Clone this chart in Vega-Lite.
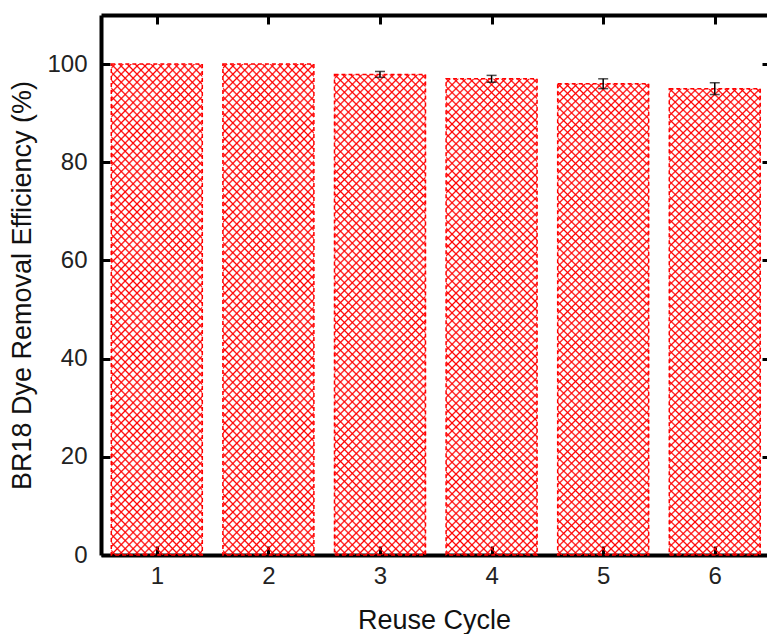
{
  "$schema": "https://vega.github.io/schema/vega-lite/v6.json",
  "width": 666,
  "height": 540,
  "autosize": {"type": "none"},
  "padding": {"left": 101, "top": 15, "right": 0, "bottom": 79},
  "background": "white",
  "config": {"view": {"stroke": null}, "font": "Liberation Sans"},
  "data": {
    "values": [
      {"cycle": 1, "eff": 100, "lo": 100, "hi": 100, "err": 0},
      {"cycle": 2, "eff": 100, "lo": 100, "hi": 100, "err": 0},
      {"cycle": 3, "eff": 97.9, "lo": 97.3, "hi": 98.5, "err": 0.6},
      {"cycle": 4, "eff": 97.0, "lo": 96.3, "hi": 97.7, "err": 0.7},
      {"cycle": 5, "eff": 96.0, "lo": 95.0, "hi": 97.0, "err": 1.0},
      {"cycle": 6, "eff": 95.0, "lo": 93.8, "hi": 96.2, "err": 1.2}
    ]
  },
  "resolve": {"axis": {"x": "independent", "y": "independent"}},
  "layer": [
    {
      "mark": {"type": "bar", "size": 91, "strokeWidth": 0,
        "fill": {"gradient": "linear", "x1": 0, "y1": 0, "x2": 0.2183, "y2": 1.148, "stops": [
{"offset":0.0039,"color":"#f000"},{"offset":0.0069,"color":"#f00"},{"offset":0.0099,"color":"#f000"},
{"offset":0.0178,"color":"#f000"},{"offset":0.0208,"color":"#f00"},{"offset":0.0238,"color":"#f000"},
{"offset":0.0317,"color":"#f000"},{"offset":0.0347,"color":"#f00"},{"offset":0.0377,"color":"#f000"},
{"offset":0.0456,"color":"#f000"},{"offset":0.0486,"color":"#f00"},{"offset":0.0516,"color":"#f000"},
{"offset":0.0595,"color":"#f000"},{"offset":0.0625,"color":"#f00"},{"offset":0.0655,"color":"#f000"},
{"offset":0.0734,"color":"#f000"},{"offset":0.0764,"color":"#f00"},{"offset":0.0794,"color":"#f000"},
{"offset":0.0873,"color":"#f000"},{"offset":0.0903,"color":"#f00"},{"offset":0.0933,"color":"#f000"},
{"offset":0.1012,"color":"#f000"},{"offset":0.1042,"color":"#f00"},{"offset":0.1072,"color":"#f000"},
{"offset":0.1151,"color":"#f000"},{"offset":0.1181,"color":"#f00"},{"offset":0.1211,"color":"#f000"},
{"offset":0.1289,"color":"#f000"},{"offset":0.1319,"color":"#f00"},{"offset":0.1349,"color":"#f000"},
{"offset":0.1428,"color":"#f000"},{"offset":0.1458,"color":"#f00"},{"offset":0.1488,"color":"#f000"},
{"offset":0.1567,"color":"#f000"},{"offset":0.1597,"color":"#f00"},{"offset":0.1627,"color":"#f000"},
{"offset":0.1706,"color":"#f000"},{"offset":0.1736,"color":"#f00"},{"offset":0.1766,"color":"#f000"},
{"offset":0.1845,"color":"#f000"},{"offset":0.1875,"color":"#f00"},{"offset":0.1905,"color":"#f000"},
{"offset":0.1984,"color":"#f000"},{"offset":0.2014,"color":"#f00"},{"offset":0.2044,"color":"#f000"},
{"offset":0.2123,"color":"#f000"},{"offset":0.2153,"color":"#f00"},{"offset":0.2183,"color":"#f000"},
{"offset":0.2262,"color":"#f000"},{"offset":0.2292,"color":"#f00"},{"offset":0.2322,"color":"#f000"},
{"offset":0.2401,"color":"#f000"},{"offset":0.2431,"color":"#f00"},{"offset":0.2461,"color":"#f000"},
{"offset":0.2539,"color":"#f000"},{"offset":0.2569,"color":"#f00"},{"offset":0.2599,"color":"#f000"},
{"offset":0.2678,"color":"#f000"},{"offset":0.2708,"color":"#f00"},{"offset":0.2738,"color":"#f000"},
{"offset":0.2817,"color":"#f000"},{"offset":0.2847,"color":"#f00"},{"offset":0.2877,"color":"#f000"},
{"offset":0.2956,"color":"#f000"},{"offset":0.2986,"color":"#f00"},{"offset":0.3016,"color":"#f000"},
{"offset":0.3095,"color":"#f000"},{"offset":0.3125,"color":"#f00"},{"offset":0.3155,"color":"#f000"},
{"offset":0.3234,"color":"#f000"},{"offset":0.3264,"color":"#f00"},{"offset":0.3294,"color":"#f000"},
{"offset":0.3373,"color":"#f000"},{"offset":0.3403,"color":"#f00"},{"offset":0.3433,"color":"#f000"},
{"offset":0.3512,"color":"#f000"},{"offset":0.3542,"color":"#f00"},{"offset":0.3572,"color":"#f000"},
{"offset":0.3651,"color":"#f000"},{"offset":0.3681,"color":"#f00"},{"offset":0.3711,"color":"#f000"},
{"offset":0.3789,"color":"#f000"},{"offset":0.3819,"color":"#f00"},{"offset":0.3849,"color":"#f000"},
{"offset":0.3928,"color":"#f000"},{"offset":0.3958,"color":"#f00"},{"offset":0.3988,"color":"#f000"},
{"offset":0.4067,"color":"#f000"},{"offset":0.4097,"color":"#f00"},{"offset":0.4127,"color":"#f000"},
{"offset":0.4206,"color":"#f000"},{"offset":0.4236,"color":"#f00"},{"offset":0.4266,"color":"#f000"},
{"offset":0.4345,"color":"#f000"},{"offset":0.4375,"color":"#f00"},{"offset":0.4405,"color":"#f000"},
{"offset":0.4484,"color":"#f000"},{"offset":0.4514,"color":"#f00"},{"offset":0.4544,"color":"#f000"},
{"offset":0.4623,"color":"#f000"},{"offset":0.4653,"color":"#f00"},{"offset":0.4683,"color":"#f000"},
{"offset":0.4762,"color":"#f000"},{"offset":0.4792,"color":"#f00"},{"offset":0.4822,"color":"#f000"},
{"offset":0.4901,"color":"#f000"},{"offset":0.4931,"color":"#f00"},{"offset":0.4961,"color":"#f000"},
{"offset":0.5039,"color":"#f000"},{"offset":0.5069,"color":"#f00"},{"offset":0.5099,"color":"#f000"},
{"offset":0.5178,"color":"#f000"},{"offset":0.5208,"color":"#f00"},{"offset":0.5238,"color":"#f000"},
{"offset":0.5317,"color":"#f000"},{"offset":0.5347,"color":"#f00"},{"offset":0.5377,"color":"#f000"},
{"offset":0.5456,"color":"#f000"},{"offset":0.5486,"color":"#f00"},{"offset":0.5516,"color":"#f000"},
{"offset":0.5595,"color":"#f000"},{"offset":0.5625,"color":"#f00"},{"offset":0.5655,"color":"#f000"},
{"offset":0.5734,"color":"#f000"},{"offset":0.5764,"color":"#f00"},{"offset":0.5794,"color":"#f000"},
{"offset":0.5873,"color":"#f000"},{"offset":0.5903,"color":"#f00"},{"offset":0.5933,"color":"#f000"},
{"offset":0.6012,"color":"#f000"},{"offset":0.6042,"color":"#f00"},{"offset":0.6072,"color":"#f000"},
{"offset":0.6151,"color":"#f000"},{"offset":0.6181,"color":"#f00"},{"offset":0.6211,"color":"#f000"},
{"offset":0.6289,"color":"#f000"},{"offset":0.6319,"color":"#f00"},{"offset":0.6349,"color":"#f000"},
{"offset":0.6428,"color":"#f000"},{"offset":0.6458,"color":"#f00"},{"offset":0.6488,"color":"#f000"},
{"offset":0.6567,"color":"#f000"},{"offset":0.6597,"color":"#f00"},{"offset":0.6627,"color":"#f000"},
{"offset":0.6706,"color":"#f000"},{"offset":0.6736,"color":"#f00"},{"offset":0.6766,"color":"#f000"},
{"offset":0.6845,"color":"#f000"},{"offset":0.6875,"color":"#f00"},{"offset":0.6905,"color":"#f000"},
{"offset":0.6984,"color":"#f000"},{"offset":0.7014,"color":"#f00"},{"offset":0.7044,"color":"#f000"},
{"offset":0.7123,"color":"#f000"},{"offset":0.7153,"color":"#f00"},{"offset":0.7183,"color":"#f000"},
{"offset":0.7262,"color":"#f000"},{"offset":0.7292,"color":"#f00"},{"offset":0.7322,"color":"#f000"},
{"offset":0.7401,"color":"#f000"},{"offset":0.7431,"color":"#f00"},{"offset":0.7461,"color":"#f000"},
{"offset":0.7539,"color":"#f000"},{"offset":0.7569,"color":"#f00"},{"offset":0.7599,"color":"#f000"},
{"offset":0.7678,"color":"#f000"},{"offset":0.7708,"color":"#f00"},{"offset":0.7738,"color":"#f000"},
{"offset":0.7817,"color":"#f000"},{"offset":0.7847,"color":"#f00"},{"offset":0.7877,"color":"#f000"},
{"offset":0.7956,"color":"#f000"},{"offset":0.7986,"color":"#f00"},{"offset":0.8016,"color":"#f000"},
{"offset":0.8095,"color":"#f000"},{"offset":0.8125,"color":"#f00"},{"offset":0.8155,"color":"#f000"},
{"offset":0.8234,"color":"#f000"},{"offset":0.8264,"color":"#f00"},{"offset":0.8294,"color":"#f000"},
{"offset":0.8373,"color":"#f000"},{"offset":0.8403,"color":"#f00"},{"offset":0.8433,"color":"#f000"},
{"offset":0.8512,"color":"#f000"},{"offset":0.8542,"color":"#f00"},{"offset":0.8572,"color":"#f000"},
{"offset":0.8651,"color":"#f000"},{"offset":0.8681,"color":"#f00"},{"offset":0.8711,"color":"#f000"},
{"offset":0.8789,"color":"#f000"},{"offset":0.8819,"color":"#f00"},{"offset":0.8849,"color":"#f000"},
{"offset":0.8928,"color":"#f000"},{"offset":0.8958,"color":"#f00"},{"offset":0.8988,"color":"#f000"},
{"offset":0.9067,"color":"#f000"},{"offset":0.9097,"color":"#f00"},{"offset":0.9127,"color":"#f000"},
{"offset":0.9206,"color":"#f000"},{"offset":0.9236,"color":"#f00"},{"offset":0.9266,"color":"#f000"},
{"offset":0.9345,"color":"#f000"},{"offset":0.9375,"color":"#f00"},{"offset":0.9405,"color":"#f000"},
{"offset":0.9484,"color":"#f000"},{"offset":0.9514,"color":"#f00"},{"offset":0.9544,"color":"#f000"},
{"offset":0.9623,"color":"#f000"},{"offset":0.9653,"color":"#f00"},{"offset":0.9683,"color":"#f000"},
{"offset":0.9762,"color":"#f000"},{"offset":0.9792,"color":"#f00"},{"offset":0.9822,"color":"#f000"},
{"offset":0.9901,"color":"#f000"},{"offset":0.9931,"color":"#f00"},{"offset":0.9961,"color":"#f000"}
        ]}},
      "encoding": {
        "x": {
          "field": "cycle", "type": "quantitative",
          "scale": {"domain": [0.5, 6.468], "nice": false, "zero": false, "padding": 0},
          "axis": {
            "orient": "bottom", "values": [1, 2, 3, 4, 5, 6], "grid": false,
            "domainColor": "black", "domainWidth": 4,
            "tickColor": "black", "tickWidth": 3, "tickSize": -9,
            "labelFontSize": 24, "labelColor": "#222", "labelPadding": 18,
            "title": "Reuse Cycle", "titleFontSize": 27, "titleFontWeight": "normal", "titleColor": "#111", "titlePadding": 19
          }
        },
        "y": {
          "field": "eff", "type": "quantitative",
          "scale": {"domain": [0, 110], "nice": false},
          "axis": {
            "orient": "left", "values": [0, 20, 40, 60, 80, 100], "grid": false,
            "domainColor": "black", "domainWidth": 4,
            "tickColor": "black", "tickWidth": 3, "tickSize": -9,
            "labelFontSize": 24, "labelColor": "#222", "labelPadding": 23,
            "title": "BR18 Dye Removal Efficiency (%)", "titleFontSize": 27, "titleFontWeight": "normal", "titleColor": "#111", "titlePadding": 10
          }
        }
      }
    },
    {
      "mark": {"type": "bar", "size": 91, "stroke": "#ff0000", "strokeWidth": 1.5, "strokeDash": [4, 3],
        "fill": {"gradient": "linear", "x1": 1, "y1": 0, "x2": 0.7817, "y2": 1.148, "stops": [
{"offset":0.0039,"color":"#f000"},{"offset":0.0069,"color":"#f00"},{"offset":0.0099,"color":"#f000"},
{"offset":0.0178,"color":"#f000"},{"offset":0.0208,"color":"#f00"},{"offset":0.0238,"color":"#f000"},
{"offset":0.0317,"color":"#f000"},{"offset":0.0347,"color":"#f00"},{"offset":0.0377,"color":"#f000"},
{"offset":0.0456,"color":"#f000"},{"offset":0.0486,"color":"#f00"},{"offset":0.0516,"color":"#f000"},
{"offset":0.0595,"color":"#f000"},{"offset":0.0625,"color":"#f00"},{"offset":0.0655,"color":"#f000"},
{"offset":0.0734,"color":"#f000"},{"offset":0.0764,"color":"#f00"},{"offset":0.0794,"color":"#f000"},
{"offset":0.0873,"color":"#f000"},{"offset":0.0903,"color":"#f00"},{"offset":0.0933,"color":"#f000"},
{"offset":0.1012,"color":"#f000"},{"offset":0.1042,"color":"#f00"},{"offset":0.1072,"color":"#f000"},
{"offset":0.1151,"color":"#f000"},{"offset":0.1181,"color":"#f00"},{"offset":0.1211,"color":"#f000"},
{"offset":0.1289,"color":"#f000"},{"offset":0.1319,"color":"#f00"},{"offset":0.1349,"color":"#f000"},
{"offset":0.1428,"color":"#f000"},{"offset":0.1458,"color":"#f00"},{"offset":0.1488,"color":"#f000"},
{"offset":0.1567,"color":"#f000"},{"offset":0.1597,"color":"#f00"},{"offset":0.1627,"color":"#f000"},
{"offset":0.1706,"color":"#f000"},{"offset":0.1736,"color":"#f00"},{"offset":0.1766,"color":"#f000"},
{"offset":0.1845,"color":"#f000"},{"offset":0.1875,"color":"#f00"},{"offset":0.1905,"color":"#f000"},
{"offset":0.1984,"color":"#f000"},{"offset":0.2014,"color":"#f00"},{"offset":0.2044,"color":"#f000"},
{"offset":0.2123,"color":"#f000"},{"offset":0.2153,"color":"#f00"},{"offset":0.2183,"color":"#f000"},
{"offset":0.2262,"color":"#f000"},{"offset":0.2292,"color":"#f00"},{"offset":0.2322,"color":"#f000"},
{"offset":0.2401,"color":"#f000"},{"offset":0.2431,"color":"#f00"},{"offset":0.2461,"color":"#f000"},
{"offset":0.2539,"color":"#f000"},{"offset":0.2569,"color":"#f00"},{"offset":0.2599,"color":"#f000"},
{"offset":0.2678,"color":"#f000"},{"offset":0.2708,"color":"#f00"},{"offset":0.2738,"color":"#f000"},
{"offset":0.2817,"color":"#f000"},{"offset":0.2847,"color":"#f00"},{"offset":0.2877,"color":"#f000"},
{"offset":0.2956,"color":"#f000"},{"offset":0.2986,"color":"#f00"},{"offset":0.3016,"color":"#f000"},
{"offset":0.3095,"color":"#f000"},{"offset":0.3125,"color":"#f00"},{"offset":0.3155,"color":"#f000"},
{"offset":0.3234,"color":"#f000"},{"offset":0.3264,"color":"#f00"},{"offset":0.3294,"color":"#f000"},
{"offset":0.3373,"color":"#f000"},{"offset":0.3403,"color":"#f00"},{"offset":0.3433,"color":"#f000"},
{"offset":0.3512,"color":"#f000"},{"offset":0.3542,"color":"#f00"},{"offset":0.3572,"color":"#f000"},
{"offset":0.3651,"color":"#f000"},{"offset":0.3681,"color":"#f00"},{"offset":0.3711,"color":"#f000"},
{"offset":0.3789,"color":"#f000"},{"offset":0.3819,"color":"#f00"},{"offset":0.3849,"color":"#f000"},
{"offset":0.3928,"color":"#f000"},{"offset":0.3958,"color":"#f00"},{"offset":0.3988,"color":"#f000"},
{"offset":0.4067,"color":"#f000"},{"offset":0.4097,"color":"#f00"},{"offset":0.4127,"color":"#f000"},
{"offset":0.4206,"color":"#f000"},{"offset":0.4236,"color":"#f00"},{"offset":0.4266,"color":"#f000"},
{"offset":0.4345,"color":"#f000"},{"offset":0.4375,"color":"#f00"},{"offset":0.4405,"color":"#f000"},
{"offset":0.4484,"color":"#f000"},{"offset":0.4514,"color":"#f00"},{"offset":0.4544,"color":"#f000"},
{"offset":0.4623,"color":"#f000"},{"offset":0.4653,"color":"#f00"},{"offset":0.4683,"color":"#f000"},
{"offset":0.4762,"color":"#f000"},{"offset":0.4792,"color":"#f00"},{"offset":0.4822,"color":"#f000"},
{"offset":0.4901,"color":"#f000"},{"offset":0.4931,"color":"#f00"},{"offset":0.4961,"color":"#f000"},
{"offset":0.5039,"color":"#f000"},{"offset":0.5069,"color":"#f00"},{"offset":0.5099,"color":"#f000"},
{"offset":0.5178,"color":"#f000"},{"offset":0.5208,"color":"#f00"},{"offset":0.5238,"color":"#f000"},
{"offset":0.5317,"color":"#f000"},{"offset":0.5347,"color":"#f00"},{"offset":0.5377,"color":"#f000"},
{"offset":0.5456,"color":"#f000"},{"offset":0.5486,"color":"#f00"},{"offset":0.5516,"color":"#f000"},
{"offset":0.5595,"color":"#f000"},{"offset":0.5625,"color":"#f00"},{"offset":0.5655,"color":"#f000"},
{"offset":0.5734,"color":"#f000"},{"offset":0.5764,"color":"#f00"},{"offset":0.5794,"color":"#f000"},
{"offset":0.5873,"color":"#f000"},{"offset":0.5903,"color":"#f00"},{"offset":0.5933,"color":"#f000"},
{"offset":0.6012,"color":"#f000"},{"offset":0.6042,"color":"#f00"},{"offset":0.6072,"color":"#f000"},
{"offset":0.6151,"color":"#f000"},{"offset":0.6181,"color":"#f00"},{"offset":0.6211,"color":"#f000"},
{"offset":0.6289,"color":"#f000"},{"offset":0.6319,"color":"#f00"},{"offset":0.6349,"color":"#f000"},
{"offset":0.6428,"color":"#f000"},{"offset":0.6458,"color":"#f00"},{"offset":0.6488,"color":"#f000"},
{"offset":0.6567,"color":"#f000"},{"offset":0.6597,"color":"#f00"},{"offset":0.6627,"color":"#f000"},
{"offset":0.6706,"color":"#f000"},{"offset":0.6736,"color":"#f00"},{"offset":0.6766,"color":"#f000"},
{"offset":0.6845,"color":"#f000"},{"offset":0.6875,"color":"#f00"},{"offset":0.6905,"color":"#f000"},
{"offset":0.6984,"color":"#f000"},{"offset":0.7014,"color":"#f00"},{"offset":0.7044,"color":"#f000"},
{"offset":0.7123,"color":"#f000"},{"offset":0.7153,"color":"#f00"},{"offset":0.7183,"color":"#f000"},
{"offset":0.7262,"color":"#f000"},{"offset":0.7292,"color":"#f00"},{"offset":0.7322,"color":"#f000"},
{"offset":0.7401,"color":"#f000"},{"offset":0.7431,"color":"#f00"},{"offset":0.7461,"color":"#f000"},
{"offset":0.7539,"color":"#f000"},{"offset":0.7569,"color":"#f00"},{"offset":0.7599,"color":"#f000"},
{"offset":0.7678,"color":"#f000"},{"offset":0.7708,"color":"#f00"},{"offset":0.7738,"color":"#f000"},
{"offset":0.7817,"color":"#f000"},{"offset":0.7847,"color":"#f00"},{"offset":0.7877,"color":"#f000"},
{"offset":0.7956,"color":"#f000"},{"offset":0.7986,"color":"#f00"},{"offset":0.8016,"color":"#f000"},
{"offset":0.8095,"color":"#f000"},{"offset":0.8125,"color":"#f00"},{"offset":0.8155,"color":"#f000"},
{"offset":0.8234,"color":"#f000"},{"offset":0.8264,"color":"#f00"},{"offset":0.8294,"color":"#f000"},
{"offset":0.8373,"color":"#f000"},{"offset":0.8403,"color":"#f00"},{"offset":0.8433,"color":"#f000"},
{"offset":0.8512,"color":"#f000"},{"offset":0.8542,"color":"#f00"},{"offset":0.8572,"color":"#f000"},
{"offset":0.8651,"color":"#f000"},{"offset":0.8681,"color":"#f00"},{"offset":0.8711,"color":"#f000"},
{"offset":0.8789,"color":"#f000"},{"offset":0.8819,"color":"#f00"},{"offset":0.8849,"color":"#f000"},
{"offset":0.8928,"color":"#f000"},{"offset":0.8958,"color":"#f00"},{"offset":0.8988,"color":"#f000"},
{"offset":0.9067,"color":"#f000"},{"offset":0.9097,"color":"#f00"},{"offset":0.9127,"color":"#f000"},
{"offset":0.9206,"color":"#f000"},{"offset":0.9236,"color":"#f00"},{"offset":0.9266,"color":"#f000"},
{"offset":0.9345,"color":"#f000"},{"offset":0.9375,"color":"#f00"},{"offset":0.9405,"color":"#f000"},
{"offset":0.9484,"color":"#f000"},{"offset":0.9514,"color":"#f00"},{"offset":0.9544,"color":"#f000"},
{"offset":0.9623,"color":"#f000"},{"offset":0.9653,"color":"#f00"},{"offset":0.9683,"color":"#f000"},
{"offset":0.9762,"color":"#f000"},{"offset":0.9792,"color":"#f00"},{"offset":0.9822,"color":"#f000"},
{"offset":0.9901,"color":"#f000"},{"offset":0.9931,"color":"#f00"},{"offset":0.9961,"color":"#f000"}
        ]}},
      "encoding": {
        "x": {"field": "cycle", "type": "quantitative", "axis": null},
        "y": {"field": "eff", "type": "quantitative", "axis": null}
      }
    },
    {
      "transform": [{"filter": "datum.err > 0"}],
      "mark": {"type": "rule", "color": "black", "strokeWidth": 1.5},
      "encoding": {
        "x": {
          "field": "cycle", "type": "quantitative",
          "axis": {
            "orient": "top", "values": [1, 2, 3, 4, 5, 6], "grid": false, "labels": false, "title": null,
            "domainColor": "black", "domainWidth": 4,
            "tickColor": "black", "tickWidth": 3, "tickSize": -9
          }
        },
        "y": {
          "field": "lo", "type": "quantitative",
          "axis": {
            "orient": "right", "values": [0, 20, 40, 60, 80, 100], "grid": false, "labels": false, "title": null,
            "domain": false, "tickColor": "black", "tickWidth": 3, "tickSize": -5
          }
        },
        "y2": {"field": "hi"}
      }
    },
    {
      "transform": [{"filter": "datum.err > 0"}],
      "mark": {"type": "tick", "orient": "horizontal", "color": "black", "size": 10, "thickness": 1.5},
      "encoding": {
        "x": {"field": "cycle", "type": "quantitative", "axis": null},
        "y": {"field": "lo", "type": "quantitative", "axis": null}
      }
    },
    {
      "transform": [{"filter": "datum.err > 0"}],
      "mark": {"type": "tick", "orient": "horizontal", "color": "black", "size": 10, "thickness": 1.5},
      "encoding": {
        "x": {"field": "cycle", "type": "quantitative", "axis": null},
        "y": {"field": "hi", "type": "quantitative", "axis": null}
      }
    }
  ]
}
